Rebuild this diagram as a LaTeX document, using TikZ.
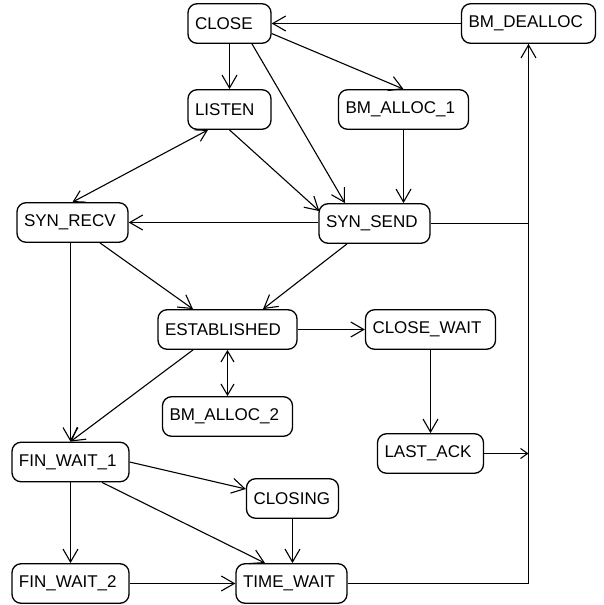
\documentclass[tikz,border=0pt]{standalone}
\usepackage{fontspec}
\setmainfont{Liberation Sans}
\usetikzlibrary{arrows.meta}
\tikzset{
  state/.style={draw, line width=1.3pt, rounded corners=9pt, minimum height=39.5pt,
    inner xsep=7pt, inner ysep=0pt, align=left, fill=white,
    font=\fontsize{17}{18}\selectfont},
  trans/.style={line width=1.1pt, -{Straight Barb[length=13pt,width=15pt]}},
  twoway/.style={line width=1.1pt, {Straight Barb[length=11pt,width=13pt]}-{Straight Barb[length=11pt,width=13pt]}},
  joinarrow/.style={line width=1.1pt, -{Straight Barb[length=7pt,width=10pt]}},
  bareline/.style={line width=1.1pt}
}
\begin{document}
\begin{tikzpicture}[x=1pt,y=-1pt]
\useasboundingbox (0,0) rectangle (603,605);

% states
\node[state, text width=69pt]  (close)  at (229.5,23.5)  {CLOSE};
\node[state, text width=120pt] (bmd)    at (528.5,23.5)  {BM\_DEALLOC};
\node[state, text width=69pt]  (listen) at (229.5,109.5) {LISTEN};
\node[state, text width=116pt] (bma1)   at (403.5,109.5) {BM\_ALLOC\_1};
\node[state, text width=97pt]  (synr)   at (72.5,222.5)  {SYN\_RECV};
\node[state, text width=97pt]  (syns)   at (374.5,223.5) {SYN\_SEND};
\node[state, text width=125pt] (est)    at (227.5,329.5) {ESTABLISHED};
\node[state, text width=116pt] (cw)     at (430.5,329.5) {CLOSE\_WAIT};
\node[state, text width=116pt] (bma2)   at (227.5,416.5) {BM\_ALLOC\_2};
\node[state, text width=92pt]  (lack)   at (430.5,453.5) {LAST\_ACK};
\node[state, text width=103pt] (fw1)    at (70.5,462)    {FIN\_WAIT\_1};
\node[state, text width=78pt]  (closing) at (292.5,498.5) {CLOSING};
\node[state, text width=103pt] (fw2)    at (70.5,583.5)  {FIN\_WAIT\_2};
\node[state, text width=97pt]  (tw)     at (291.5,583.5) {TIME\_WAIT};

% transitions
\draw[trans] (bmd.west) -- (close.east);
\draw[trans] (close.south) -- (listen.north);
\draw[trans] ([yshift=-10pt]close.east) -- (bma1.north);
\draw[trans] ([xshift=22.5pt]close.south) -- ([xshift=-29.5pt]syns.north);
\draw[twoway] ([xshift=-21.5pt]listen.south) -- (synr.north);
\draw[trans] (listen.south) -- ([shift={(1pt,-8pt)}]syns.north west);
\draw[trans] (bma1.south) -- (bma1.south |- syns.north);
\draw[trans] (syns.west |- synr.east) -- (synr.east);
\draw[trans] (syns.east) -| (bmd.south);
\draw[bareline] (tw.east) -| (bmd.south);
\draw[joinarrow] (lack.east) -- (lack.east -| bmd.south);
\draw[trans] ([xshift=27.5pt]synr.south) -- ([xshift=-34.5pt]est.north);
\draw[trans] ([xshift=-27.5pt]syns.south) -- ([xshift=35.5pt]est.north);
\draw[trans] (est.east) -- (cw.west);
\draw[twoway] (est.south) -- (bma2.north);
\draw[trans] ([xshift=-34.5pt]est.south) -- (fw1.north);
\draw[trans] (synr.south -| fw1.north) -- (fw1.north);
\draw[trans] (cw.south) -- (lack.north);
\draw[trans] (fw1.south) -- (fw2.north);
\draw[trans] (fw1.east) -- ([yshift=9.5pt]closing.west);
\draw[trans] ([xshift=31.5pt]fw1.south) -- ([xshift=-26.5pt]tw.north);
\draw[trans] (closing.south) -- (closing.south |- tw.north);
\draw[trans] (fw2.east) -- (tw.west);
\end{tikzpicture}
\end{document}
